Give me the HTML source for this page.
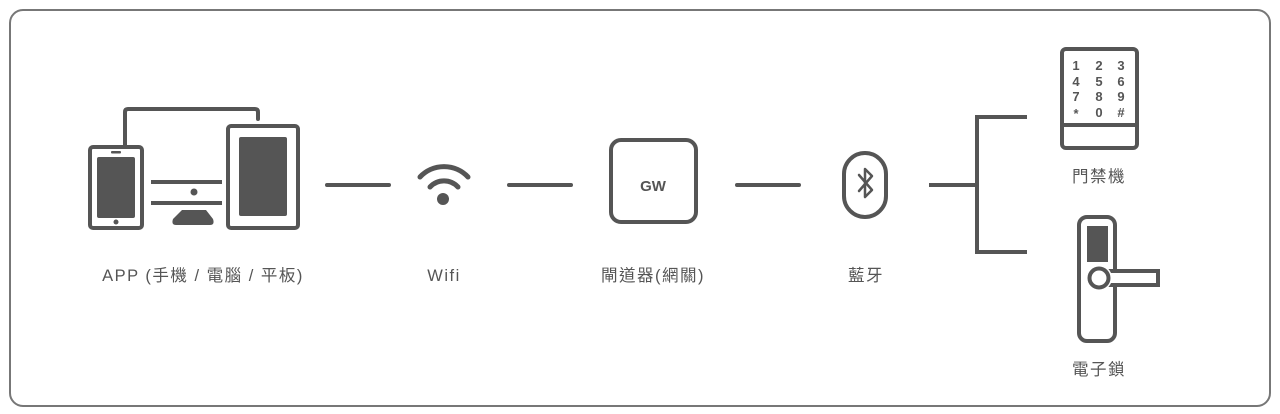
<!DOCTYPE html>
<html><head><meta charset="utf-8"><style>
html,body{margin:0;padding:0;background:#fff;width:1280px;height:414px;overflow:hidden}
svg text{font-family:"Liberation Sans","Noto Sans CJK TC",sans-serif;fill:#555}
</style></head><body>
<svg width="1280" height="414" viewBox="0 0 1280 414" xmlns="http://www.w3.org/2000/svg">
<rect x="10" y="10" width="1260" height="396" rx="13" fill="none" stroke="#777" stroke-width="2"/>
<g stroke="#555" stroke-width="4" fill="none" stroke-linecap="round">
<path d="M125 145 V112 Q125 109 128 109 H255 Q258 109 258 112 V119"/>
<rect x="90" y="147" width="52" height="81" rx="3"/>
<rect x="228" y="126" width="70" height="102" rx="3"/>
<line x1="151" y1="182" x2="222" y2="182" stroke-linecap="butt"/>
<line x1="151" y1="203" x2="222" y2="203" stroke-linecap="butt"/>
<line x1="327" y1="185" x2="389" y2="185"/>
<line x1="509" y1="185" x2="571" y2="185"/>
<line x1="737" y1="185" x2="799" y2="185"/>
<path d="M929 185 H977 M1027 117 H977 V252 H1027" stroke-linecap="butt"/>
<path d="M420 177 A33 33 0 0 1 468 177" stroke-width="5"/>
<path d="M430 187 A19 19 0 0 1 458 187" stroke-width="5"/>
<rect x="611" y="140" width="85" height="82" rx="10"/>
<rect x="844" y="153" width="42" height="64" rx="21"/>
<path d="M859 175 L872 190 L865 197 V169 L872 176 L859 191" stroke-width="2.5" stroke-linejoin="round"/>
<rect x="1062" y="49" width="75" height="99" rx="4"/>
<line x1="1062" y1="125" x2="1137" y2="125"/>
<rect x="1079" y="217" width="36" height="124" rx="8"/>
<rect x="1104" y="271" width="54" height="14" fill="#fff" stroke="none"/>
<path d="M1106 271 H1158 V285 H1106"/>
<circle cx="1099" cy="278" r="13" fill="#fff" stroke="none"/>
<circle cx="1099" cy="278" r="9.5" fill="#fff"/>
</g>
<g fill="#555">
<rect x="97" y="157" width="38" height="61" rx="2"/>
<rect x="111" y="151" width="10" height="2.5" rx="1"/>
<circle cx="116" cy="222" r="2.5"/>
<rect x="239" y="137" width="48" height="79" rx="2"/>
<circle cx="194" cy="192" r="3.5"/>
<path d="M182 210 H206 L213 219 Q215 225 210 225 H176 Q171 225 173 219 Z"/>
<circle cx="443" cy="199" r="6"/>
<rect x="1087" y="226" width="21" height="36"/>
</g>
<text x="653" y="191" font-size="15" font-weight="bold" text-anchor="middle">GW</text>
<g font-size="13" font-weight="bold" text-anchor="middle">
<text x="1076" y="70">1</text><text x="1099" y="70">2</text><text x="1121" y="70">3</text>
<text x="1076" y="86">4</text><text x="1099" y="86">5</text><text x="1121" y="86">6</text>
<text x="1076" y="101">7</text><text x="1099" y="101">8</text><text x="1121" y="101">9</text>
<text x="1076" y="118">*</text><text x="1099" y="117">0</text><text x="1121" y="117">#</text>
</g>
<g font-size="16.5" text-anchor="middle" letter-spacing="1.5">
<text x="203" y="281">APP (手機 / 電腦 / 平板)</text>
<text x="444" y="281">Wifi</text>
<text x="653" y="281">閘道器(網關)</text>
<text x="866" y="281">藍牙</text>
<text x="1099" y="182">門禁機</text>
<text x="1099" y="375">電子鎖</text>
</g>
</svg>
</body></html>
